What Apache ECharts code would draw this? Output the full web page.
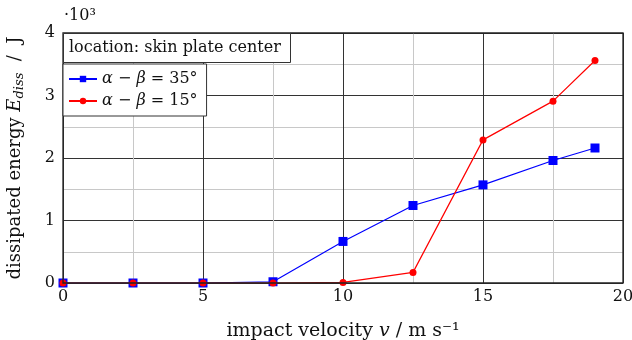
<!DOCTYPE html>
<html>
<head>
<meta charset="utf-8">
<script src="https://cdn.jsdelivr.net/npm/echarts@6/dist/echarts.min.js"></script>
<style>html,body{margin:0;padding:0;background:#fff}#c{width:632px;height:340px}</style>
</head>
<body>
<div id="c"></div>
<script>
// impact velocity (m/s)
const velocities = [0, 2.5, 5, 7.5, 10, 12.5, 15, 17.5, 19];
// dissipated energy in 10^3 J
const energy35 = [0, 0, 0, 0.02, 0.665, 1.24, 1.57, 1.96, 2.16];
const energy15 = [0, 0, 0, 0, 0.01, 0.17, 2.29, 2.91, 3.56];
const seriesNames = ['α35', 'α15'];
const xTicks = [0, 5, 10, 15, 20];
const yTicks = [0, 1, 2, 3, 4];

const FONT = 'DejaVu Serif';
const chart = echarts.init(document.getElementById('c'), null, {renderer: 'canvas'});
const pairs = (xs, ys) => xs.map((x, i) => [x, ys[i]]);

chart.setOption({
  animation: false,
  textStyle: {fontFamily: FONT},
  grid: {left: 63, right: 9, top: 33, bottom: 57, show: true, borderColor: '#222', borderWidth: 1.3, z: 10,
    outerBoundsMode: 'none', containLabel: false},
  title: {
    text: 'location: skin plate center',
    left: 63, top: 33,
    padding: [7, 10, 7, 6],
    borderColor: '#333', borderWidth: 1, backgroundColor: '#fff',
    textStyle: {fontFamily: FONT, fontSize: 16, fontWeight: 'normal', color: '#111'},
    z: 20
  },
  legend: {
    left: 63, top: 64,
    orient: 'vertical',
    padding: [7, 9, 7, 5],
    itemGap: 6,
    itemWidth: 28, itemHeight: 8,
    borderColor: '#333', borderWidth: 1, backgroundColor: '#fff',
    data: seriesNames,
    formatter: function (n) {
      return n === 'α35' ? '{i|α} − {i|β} = 35°' : '{i|α} − {i|β} = 15°';
    },
    textStyle: {
      fontFamily: FONT, fontSize: 16, color: '#111',
      rich: {i: {fontFamily: FONT, fontSize: 16, fontStyle: 'italic', color: '#111'}}
    },
    z: 20
  },
  xAxis: {
    type: 'value', min: 0, max: 20, interval: 5,
    axisLine: {show: false},
    axisTick: {show: false},
    axisLabel: {fontFamily: FONT, fontSize: 16, color: '#111', margin: 6,
      formatter: v => xTicks.includes(v) ? String(v) : ''},
    splitLine: {show: true, lineStyle: {color: '#333', width: 1}},
    minorTick: {show: false, splitNumber: 2},
    minorSplitLine: {show: true, lineStyle: {color: '#c8c8c8', width: 1}},
    name: 'impact velocity {i|v} / m s⁻¹',
    nameLocation: 'middle', nameGap: 39,
    nameTextStyle: {fontFamily: FONT, fontSize: 19, color: '#111',
      rich: {i: {fontFamily: FONT, fontSize: 19, fontStyle: 'italic', color: '#111'}}}
  },
  yAxis: {
    type: 'value', min: 0, max: 4, interval: 1,
    axisLine: {show: false},
    axisTick: {show: false},
    axisLabel: {fontFamily: FONT, fontSize: 16, color: '#111', margin: 8,
      formatter: v => yTicks.includes(v) ? String(v) : ''},
    splitLine: {show: true, lineStyle: {color: '#333', width: 1}},
    minorTick: {show: false, splitNumber: 2},
    minorSplitLine: {show: true, lineStyle: {color: '#c8c8c8', width: 1}},
    name: 'dissipated energy {i|E}{s|diss}  /  J',
    nameLocation: 'middle', nameGap: 37, nameRotate: 90,
    nameTextStyle: {fontFamily: FONT, fontSize: 18, color: '#111',
      rich: {
        i: {fontFamily: FONT, fontSize: 18, fontStyle: 'italic', color: '#111'},
        s: {fontFamily: FONT, fontSize: 13, fontStyle: 'italic', color: '#111', verticalAlign: 'bottom', padding: [8, 0, 0, 0]}
      }}
  },
  graphic: [{
    type: 'text', left: 64, top: 8, z: 30,
    style: {text: '·10³', font: '16px "DejaVu Serif"', fill: '#111'}
  }],
  series: [
    {
      name: 'α35', type: 'line', data: pairs(velocities, energy35),
      color: '#0000ff', symbol: 'rect', symbolSize: 9,
      lineStyle: {width: 1.2, color: '#0000ff'},
      itemStyle: {color: '#0000ff'}, z: 3
    },
    {
      name: 'α15', type: 'line', data: pairs(velocities, energy15),
      color: '#ff0000', symbol: 'circle', symbolSize: 7,
      lineStyle: {width: 1.2, color: '#ff0000'},
      itemStyle: {color: '#ff0000'}, z: 4
    }
  ]
});
</script>
</body>
</html>
